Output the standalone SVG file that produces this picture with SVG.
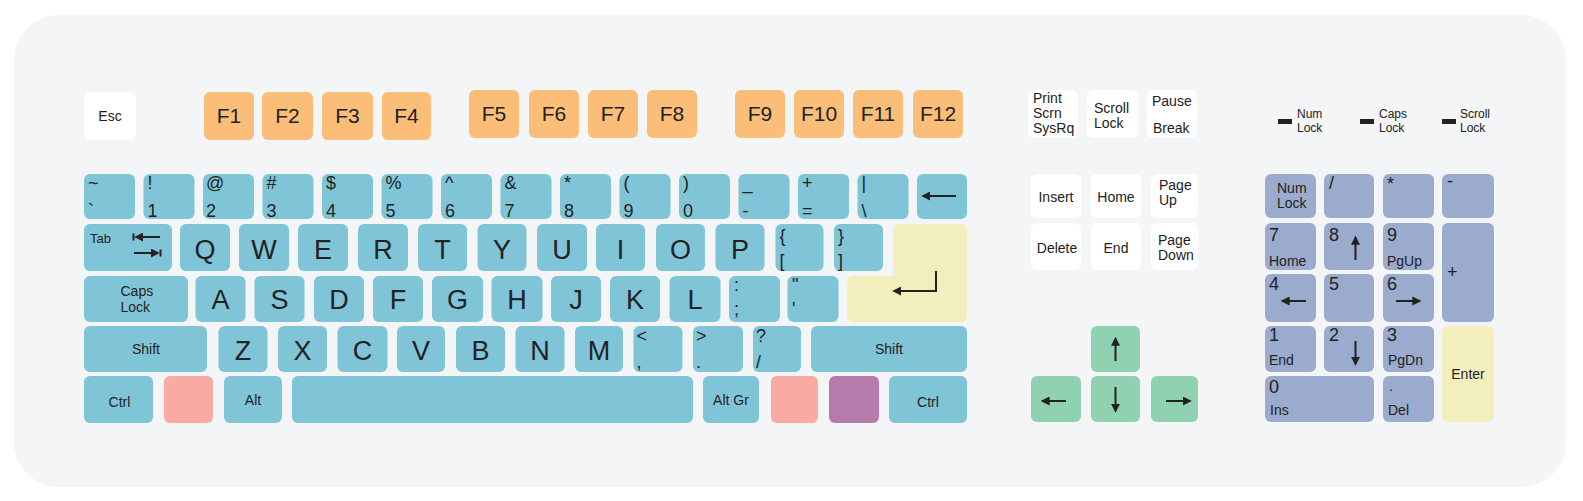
<svg xmlns="http://www.w3.org/2000/svg" width="1583" height="501" viewBox="0 0 1583 501">
<defs>
<style>
text{font-family:"Liberation Sans",Arial,sans-serif;fill:#222}
.w{fill:#fff}.o{fill:#fbbe78}.b{fill:#80c5d7}.y{fill:#f3efbd}.p{fill:#f9aaa3}.v{fill:#b77bab}.g{fill:#90d1b2}.n{fill:#9babcd}
.L{font-size:27px;text-anchor:middle}
.F{font-size:21px;text-anchor:middle}
.S{font-size:18px}
.s{font-size:14px}
.t{font-size:13px}
.m{font-size:14px;text-anchor:middle}
.led{font-size:12px}
.ar{stroke:#222;stroke-width:2;fill:none;marker-end:url(#ah)}
.bar{stroke:#222;stroke-width:2}
</style>
<marker id="ah" viewBox="0 0 10 10" refX="8" refY="5" markerWidth="4.5" markerHeight="4.5" orient="auto" markerUnits="strokeWidth"><path d="M0,0L10,5L0,10z" fill="#222"/></marker>
</defs>
<rect id="panel" x="14" y="15" width="1552" height="472" rx="45" fill="#f3f5f7"/>

<!-- function row -->
<g id="k-esc"><rect class="w" x="84" y="92" width="52" height="48" rx="6"/><text class="m" x="110" y="121">Esc</text></g>
<g id="k-f1"><rect class="o" x="204" y="92" width="50" height="48" rx="6"/><text class="F" x="229" y="123">F1</text></g>
<g id="k-f2"><rect class="o" x="262" y="92" width="51" height="48" rx="6"/><text class="F" x="287.5" y="123">F2</text></g>
<g id="k-f3"><rect class="o" x="322" y="92" width="51" height="48" rx="6"/><text class="F" x="347.5" y="123">F3</text></g>
<g id="k-f4"><rect class="o" x="382" y="92" width="49" height="48" rx="6"/><text class="F" x="406.5" y="123">F4</text></g>
<g id="k-f5"><rect class="o" x="469" y="90" width="50" height="48" rx="6"/><text class="F" x="494" y="121">F5</text></g>
<g id="k-f6"><rect class="o" x="529" y="90" width="50" height="48" rx="6"/><text class="F" x="554" y="121">F6</text></g>
<g id="k-f7"><rect class="o" x="588" y="90" width="50" height="48" rx="6"/><text class="F" x="613" y="121">F7</text></g>
<g id="k-f8"><rect class="o" x="647" y="90" width="50" height="48" rx="6"/><text class="F" x="672" y="121">F8</text></g>
<g id="k-f9"><rect class="o" x="735" y="90" width="50" height="48" rx="6"/><text class="F" x="760" y="121">F9</text></g>
<g id="k-f10"><rect class="o" x="794" y="90" width="50" height="48" rx="6"/><text class="F" x="819" y="121">F10</text></g>
<g id="k-f11"><rect class="o" x="853" y="90" width="50" height="48" rx="6"/><text class="F" x="878" y="121">F11</text></g>
<g id="k-f12"><rect class="o" x="913" y="90" width="50" height="48" rx="6"/><text class="F" x="938" y="121">F12</text></g>

<g id="k-print"><rect class="w" x="1028" y="90" width="50" height="48" rx="6"/><text class="s" x="1033" y="103">Print</text><text class="s" x="1033" y="118">Scrn</text><text class="s" x="1033" y="132.5">SysRq</text></g>
<g id="k-scroll"><rect class="w" x="1087" y="90" width="51" height="48" rx="6"/><text class="s" x="1094" y="113">Scroll</text><text class="s" x="1094" y="127.5">Lock</text></g>
<g id="k-pause"><rect class="w" x="1147" y="90" width="50" height="48" rx="6"/><text class="s" x="1152" y="106">Pause</text><text class="s" x="1153" y="132.5">Break</text></g>

<g id="led-num"><rect x="1278" y="119" width="14" height="5" fill="#222"/><text class="led" x="1297" y="118">Num</text><text class="led" x="1297" y="132">Lock</text></g>
<g id="led-caps"><rect x="1360" y="119" width="14" height="5" fill="#222"/><text class="led" x="1379" y="118">Caps</text><text class="led" x="1379" y="132">Lock</text></g>
<g id="led-scroll"><rect x="1442" y="119" width="14" height="5" fill="#222"/><text class="led" x="1460" y="118">Scroll</text><text class="led" x="1460" y="132">Lock</text></g>

<!-- number row -->
<g id="k-tilde"><rect class="b" x="84" y="174" width="51" height="45" rx="6"/><text class="S" x="88" y="189">~</text><text class="S" x="88" y="217">`</text></g>
<g id="k-1"><rect class="b" x="143.5" y="174" width="51" height="45" rx="6"/><text class="S" x="147.5" y="189">!</text><text class="S" x="147.5" y="217">1</text></g>
<g id="k-2"><rect class="b" x="203" y="174" width="51" height="45" rx="6"/><text class="S" x="206" y="189">@</text><text class="S" x="206" y="217">2</text></g>
<g id="k-3"><rect class="b" x="262.5" y="174" width="51" height="45" rx="6"/><text class="S" x="266.5" y="189">#</text><text class="S" x="266.5" y="217">3</text></g>
<g id="k-4"><rect class="b" x="322" y="174" width="51" height="45" rx="6"/><text class="S" x="326" y="189">$</text><text class="S" x="326" y="217">4</text></g>
<g id="k-5"><rect class="b" x="381.5" y="174" width="51" height="45" rx="6"/><text class="S" x="385.5" y="189">%</text><text class="S" x="385.5" y="217">5</text></g>
<g id="k-6"><rect class="b" x="441" y="174" width="51" height="45" rx="6"/><text class="S" x="445" y="189">^</text><text class="S" x="445" y="217">6</text></g>
<g id="k-7"><rect class="b" x="500.5" y="174" width="51" height="45" rx="6"/><text class="S" x="504.5" y="189">&amp;</text><text class="S" x="504.5" y="217">7</text></g>
<g id="k-8"><rect class="b" x="560" y="174" width="51" height="45" rx="6"/><text class="S" x="564" y="189">*</text><text class="S" x="564" y="217">8</text></g>
<g id="k-9"><rect class="b" x="619.5" y="174" width="51" height="45" rx="6"/><text class="S" x="623.5" y="189">(</text><text class="S" x="623.5" y="217">9</text></g>
<g id="k-0"><rect class="b" x="679" y="174" width="51" height="45" rx="6"/><text class="S" x="683" y="189">)</text><text class="S" x="683" y="217">0</text></g>
<g id="k-minus"><rect class="b" x="738.5" y="174" width="51" height="45" rx="6"/><text class="S" x="742.5" y="189">_</text><text class="S" x="742.5" y="217">-</text></g>
<g id="k-equal"><rect class="b" x="798" y="174" width="51" height="45" rx="6"/><text class="S" x="802" y="189">+</text><text class="S" x="802" y="217">=</text></g>
<g id="k-bslash"><rect class="b" x="857.5" y="174" width="51" height="45" rx="6"/><text class="S" x="861.5" y="189">|</text><text class="S" x="861.5" y="217">\</text></g>
<g id="k-bksp"><rect class="b" x="917" y="174" width="50" height="45" rx="6"/><path class="ar" d="M956,196H923"/></g>

<!-- qwerty row -->
<g id="k-tab"><rect class="b" x="84" y="224" width="88" height="47" rx="6"/><text class="t" x="90" y="242.5">Tab</text><path class="ar" d="M160,237H136"/><path class="bar" d="M133.5,233.5V240.5"/><path class="ar" d="M134,253H158"/><path class="bar" d="M160.5,249.5V256.5"/></g>
<g id="k-q"><rect class="b" x="180" y="224" width="50" height="47" rx="6"/><text class="L" x="205" y="259">Q</text></g>
<g id="k-w"><rect class="b" x="239" y="224" width="50" height="47" rx="6"/><text class="L" x="264" y="259">W</text></g>
<g id="k-e"><rect class="b" x="298" y="224" width="50" height="47" rx="6"/><text class="L" x="323" y="259">E</text></g>
<g id="k-r"><rect class="b" x="358" y="224" width="50" height="47" rx="6"/><text class="L" x="383" y="259">R</text></g>
<g id="k-t"><rect class="b" x="418" y="224" width="49" height="47" rx="6"/><text class="L" x="442.5" y="259">T</text></g>
<g id="k-y"><rect class="b" x="477.5" y="224" width="49" height="47" rx="6"/><text class="L" x="502" y="259">Y</text></g>
<g id="k-u"><rect class="b" x="537" y="224" width="50" height="47" rx="6"/><text class="L" x="562" y="259">U</text></g>
<g id="k-i"><rect class="b" x="596" y="224" width="49" height="47" rx="6"/><text class="L" x="620.5" y="259">I</text></g>
<g id="k-o"><rect class="b" x="656" y="224" width="49" height="47" rx="6"/><text class="L" x="680.5" y="259">O</text></g>
<g id="k-p"><rect class="b" x="715.5" y="224" width="49" height="47" rx="6"/><text class="L" x="740" y="259">P</text></g>
<g id="k-lbr"><rect class="b" x="775.5" y="224" width="48" height="47" rx="6"/><text class="S" x="779.5" y="242">{</text><text class="S" x="779.5" y="267">[</text></g>
<g id="k-rbr"><rect class="b" x="834" y="224" width="49" height="47" rx="6"/><text class="S" x="838" y="242">}</text><text class="S" x="838" y="267">]</text></g>
<g id="k-enter"><rect class="y" x="893" y="224" width="74" height="98" rx="6"/><rect class="y" x="847" y="276" width="120" height="46" rx="6"/><path class="ar" d="M936,271V291H894"/></g>

<!-- home row -->
<g id="k-caps"><rect class="b" x="84" y="276" width="104" height="46" rx="6"/><text class="s" x="120.5" y="296">Caps</text><text class="s" x="120.5" y="311.5">Lock</text></g>
<g id="k-a"><rect class="b" x="195.5" y="276" width="50" height="46" rx="6"/><text class="L" x="220.5" y="309">A</text></g>
<g id="k-s"><rect class="b" x="254.5" y="276" width="50" height="46" rx="6"/><text class="L" x="279.5" y="309">S</text></g>
<g id="k-d"><rect class="b" x="314" y="276" width="50" height="46" rx="6"/><text class="L" x="339" y="309">D</text></g>
<g id="k-f"><rect class="b" x="373" y="276" width="50" height="46" rx="6"/><text class="L" x="398" y="309">F</text></g>
<g id="k-g"><rect class="b" x="432" y="276" width="51" height="46" rx="6"/><text class="L" x="457.5" y="309">G</text></g>
<g id="k-h"><rect class="b" x="491.5" y="276" width="51" height="46" rx="6"/><text class="L" x="517" y="309">H</text></g>
<g id="k-j"><rect class="b" x="551" y="276" width="50" height="46" rx="6"/><text class="L" x="576" y="309">J</text></g>
<g id="k-k"><rect class="b" x="610" y="276" width="50" height="46" rx="6"/><text class="L" x="635" y="309">K</text></g>
<g id="k-l"><rect class="b" x="669.5" y="276" width="51" height="46" rx="6"/><text class="L" x="695" y="309">L</text></g>
<g id="k-semi"><rect class="b" x="729" y="276" width="51" height="46" rx="6"/><text class="S" x="734" y="291">:</text><text class="S" x="734" y="315">;</text></g>
<g id="k-quote"><rect class="b" x="787.5" y="276" width="51" height="46" rx="6"/><text class="S" x="792" y="291">"</text><text class="S" x="792" y="315">'</text></g>

<!-- bottom letter row -->
<g id="k-lshift"><rect class="b" x="84" y="326" width="123" height="46" rx="6"/><text class="m" x="146" y="354">Shift</text></g>
<g id="k-z"><rect class="b" x="218.5" y="326" width="49" height="46" rx="6"/><text class="L" x="243" y="359.5">Z</text></g>
<g id="k-x"><rect class="b" x="278" y="326" width="49" height="46" rx="6"/><text class="L" x="302.5" y="359.5">X</text></g>
<g id="k-c"><rect class="b" x="337.5" y="326" width="50" height="46" rx="6"/><text class="L" x="362.5" y="359.5">C</text></g>
<g id="k-v"><rect class="b" x="397" y="326" width="48" height="46" rx="6"/><text class="L" x="421" y="359.5">V</text></g>
<g id="k-b"><rect class="b" x="456" y="326" width="49" height="46" rx="6"/><text class="L" x="480.5" y="359.5">B</text></g>
<g id="k-n"><rect class="b" x="515.5" y="326" width="49" height="46" rx="6"/><text class="L" x="540" y="359.5">N</text></g>
<g id="k-m"><rect class="b" x="575" y="326" width="48" height="46" rx="6"/><text class="L" x="599" y="359.5">M</text></g>
<g id="k-comma"><rect class="b" x="633.5" y="326" width="49" height="46" rx="6"/><text class="S" x="636.5" y="342">&lt;</text><text class="S" x="636.5" y="368">,</text></g>
<g id="k-period"><rect class="b" x="693" y="326" width="50" height="46" rx="6"/><text class="S" x="696" y="342">&gt;</text><text class="S" x="696" y="368">.</text></g>
<g id="k-slash"><rect class="b" x="753" y="326" width="48" height="46" rx="6"/><text class="S" x="756" y="342">?</text><text class="S" x="756" y="368">/</text></g>
<g id="k-rshift"><rect class="b" x="811" y="326" width="156" height="46" rx="6"/><text class="m" x="889" y="354">Shift</text></g>

<!-- space row -->
<g id="k-lctrl"><rect class="b" x="84" y="376" width="69" height="47" rx="6"/><text class="m" x="119.5" y="407">Ctrl</text></g>
<g id="k-lwin"><rect class="p" x="164" y="376" width="49" height="47" rx="6"/></g>
<g id="k-alt"><rect class="b" x="224" y="376" width="58" height="47" rx="6"/><text class="m" x="253" y="405">Alt</text></g>
<g id="k-space"><rect class="b" x="292" y="376" width="401" height="47" rx="6"/></g>
<g id="k-altgr"><rect class="b" x="703" y="376" width="56" height="47" rx="6"/><text class="m" x="731" y="405">Alt Gr</text></g>
<g id="k-rwin"><rect class="p" x="771" y="376" width="47" height="47" rx="6"/></g>
<g id="k-menu"><rect class="v" x="829" y="376" width="50" height="47" rx="6"/></g>
<g id="k-rctrl"><rect class="b" x="889" y="376" width="78" height="47" rx="6"/><text class="m" x="928" y="407">Ctrl</text></g>

<!-- navigation -->
<g id="k-insert"><rect class="w" x="1031" y="174" width="50" height="44" rx="6"/><text class="m" x="1056" y="201.5">Insert</text></g>
<g id="k-home"><rect class="w" x="1091" y="174" width="50" height="44" rx="6"/><text class="m" x="1116" y="201.5">Home</text></g>
<g id="k-pgup"><rect class="w" x="1151" y="174" width="47" height="44" rx="6"/><text class="s" x="1159" y="190">Page</text><text class="s" x="1159" y="205">Up</text></g>
<g id="k-delete"><rect class="w" x="1031" y="223" width="50" height="47" rx="6"/><text class="m" x="1057" y="253">Delete</text></g>
<g id="k-end"><rect class="w" x="1091" y="223" width="50" height="47" rx="6"/><text class="m" x="1116" y="253">End</text></g>
<g id="k-pgdn"><rect class="w" x="1151" y="223" width="47" height="47" rx="6"/><text class="s" x="1158" y="245">Page</text><text class="s" x="1158" y="259.5">Down</text></g>
<g id="k-up"><rect class="g" x="1091" y="326" width="49" height="46" rx="6"/><path class="ar" d="M1115.5,361V338.5"/></g>
<g id="k-left"><rect class="g" x="1031" y="376" width="50" height="46" rx="6"/><path class="ar" d="M1066,401H1042.5"/></g>
<g id="k-down"><rect class="g" x="1091" y="376" width="49" height="46" rx="6"/><path class="ar" d="M1115.5,387V411"/></g>
<g id="k-right"><rect class="g" x="1151" y="376" width="47" height="46" rx="6"/><path class="ar" d="M1166,401H1190"/></g>

<!-- numpad -->
<g id="n-numlock"><rect class="n" x="1265" y="174" width="51" height="44" rx="6"/><text class="s" x="1277" y="193">Num</text><text class="s" x="1277" y="208">Lock</text></g>
<g id="n-div"><rect class="n" x="1324" y="174" width="50" height="44" rx="6"/><text class="S" x="1329" y="189">/</text></g>
<g id="n-mul"><rect class="n" x="1383" y="174" width="51" height="44" rx="6"/><text class="S" x="1387" y="190">*</text></g>
<g id="n-sub"><rect class="n" x="1442" y="174" width="52" height="44" rx="6"/><text class="S" x="1447" y="187">-</text></g>
<g id="n-7"><rect class="n" x="1265" y="223" width="51" height="47" rx="6"/><text class="S" x="1269" y="240.5">7</text><text class="s" x="1269" y="266">Home</text></g>
<g id="n-8"><rect class="n" x="1324" y="223" width="50" height="47" rx="6"/><text class="S" x="1329" y="240.5">8</text><path class="ar" d="M1355.5,260V237.5"/></g>
<g id="n-9"><rect class="n" x="1383" y="223" width="51" height="47" rx="6"/><text class="S" x="1387" y="240.5">9</text><text class="s" x="1387" y="266">PgUp</text></g>
<g id="n-add"><rect class="n" x="1442" y="223" width="52" height="99" rx="6"/><text class="S" x="1447" y="278">+</text></g>
<g id="n-4"><rect class="n" x="1265" y="274" width="51" height="48" rx="6"/><text class="S" x="1269" y="290">4</text><path class="ar" d="M1306,301H1282.5"/></g>
<g id="n-5"><rect class="n" x="1324" y="274" width="50" height="48" rx="6"/><text class="S" x="1329" y="290">5</text></g>
<g id="n-6"><rect class="n" x="1383" y="274" width="51" height="48" rx="6"/><text class="S" x="1387" y="290">6</text><path class="ar" d="M1396,301H1419.5"/></g>
<g id="n-1"><rect class="n" x="1265" y="326" width="51" height="46" rx="6"/><text class="S" x="1269" y="341">1</text><text class="s" x="1269" y="365">End</text></g>
<g id="n-2"><rect class="n" x="1324" y="326" width="50" height="46" rx="6"/><text class="S" x="1329" y="341">2</text><path class="ar" d="M1355.5,341V364"/></g>
<g id="n-3"><rect class="n" x="1383" y="326" width="51" height="46" rx="6"/><text class="S" x="1387" y="341">3</text><text class="s" x="1388" y="365">PgDn</text></g>
<g id="n-enter"><rect class="y" x="1442" y="326" width="52" height="96" rx="6"/><text class="m" x="1468" y="379">Enter</text></g>
<g id="n-0"><rect class="n" x="1265" y="376" width="109" height="46" rx="6"/><text class="S" x="1269" y="393">0</text><text class="s" x="1270" y="415">Ins</text></g>
<g id="n-dot"><rect class="n" x="1383" y="376" width="51" height="46" rx="6"/><text class="s" x="1389" y="391">.</text><text class="s" x="1388" y="415">Del</text></g>
</svg>
